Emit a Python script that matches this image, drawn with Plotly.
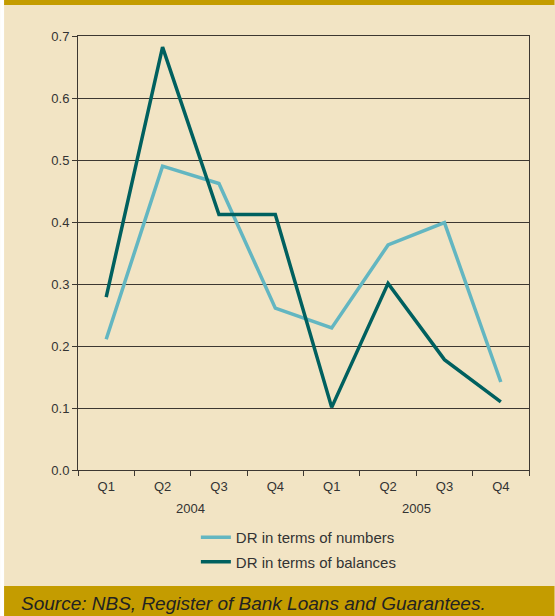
import plotly.graph_objects as go

# Quarterly default rates (DR), 2004-2005
quarters = ["Q1", "Q2", "Q3", "Q4", "Q1", "Q2", "Q3", "Q4"]
years = ["2004", "2005"]
dr_numbers = [0.211, 0.490, 0.462, 0.261, 0.229, 0.363, 0.399, 0.142]
dr_balances = [0.279, 0.682, 0.412, 0.412, 0.101, 0.301, 0.178, 0.110]
y_ticks = [0.0, 0.1, 0.2, 0.3, 0.4, 0.5, 0.6, 0.7]
source_text = "Source: NBS, Register of Bank Loans and Guarantees."

W, H = 555, 616
PL, PR, PT, PB = 78, 529.5, 36, 470  # plot area edges in pixels

BEIGE = "#F2E4C4"
GOLD = "#C49C00"
LIGHT = "#63B6C1"
DARK = "#00605F"
GRID = "#3d3731"
TEXT = "#333333"
FONT = "Liberation Sans, Arial, sans-serif"


def px_x(px):
    return (px - PL) / (PR - PL)


def px_y(py):
    return (PB - py) / (PB - PT)


xs = list(range(len(quarters)))

fig = go.Figure()
fig.add_trace(go.Scatter(
    x=xs, y=dr_numbers, mode="lines", name="DR in terms of numbers",
    line=dict(color=LIGHT, width=3.5), legendgroup="a",
))
fig.add_trace(go.Scatter(
    x=xs, y=dr_balances, mode="lines", name="DR in terms of balances",
    line=dict(color=DARK, width=3.5), legendgroup="b",
))

shapes = [
    # white strip on the left edge
    dict(type="rect", xref="paper", yref="paper", layer="above",
         x0=px_x(0), x1=px_x(4), y0=px_y(H), y1=px_y(0),
         fillcolor="white", line=dict(width=0)),
    # top gold rule
    dict(type="rect", xref="paper", yref="paper", layer="above",
         x0=px_x(4), x1=px_x(W), y0=px_y(5), y1=px_y(0),
         fillcolor=GOLD, line=dict(width=0)),
    # bottom gold band for the source line
    dict(type="rect", xref="paper", yref="paper", layer="above",
         x0=px_x(4), x1=px_x(W), y0=px_y(H), y1=px_y(586),
         fillcolor=GOLD, line=dict(width=0)),
]

annotations = [
    dict(text=yr, x=1.5 + 4 * i, xref="x", y=px_y(508), yref="paper",
         showarrow=False, xanchor="center", yanchor="middle",
         font=dict(family=FONT, size=13, color=TEXT))
    for i, yr in enumerate(years)
]
annotations.append(dict(
    text="<i>" + source_text + "</i>", x=px_x(19), xref="paper",
    y=px_y(603), yref="paper", showarrow=False, xanchor="left",
    yanchor="middle", font=dict(family=FONT, size=19, color="#222222"),
))

fig.update_layout(
    width=W, height=H,
    margin=dict(l=PL, r=W - PR, t=PT, b=H - PB, pad=0),
    paper_bgcolor=BEIGE, plot_bgcolor=BEIGE,
    showlegend=True,
    legend=dict(
        x=px_x(196), y=px_y(521), xanchor="left", yanchor="top",
        bgcolor="rgba(0,0,0,0)", tracegroupgap=2, itemwidth=30,
        font=dict(family=FONT, size=15, color=TEXT),
    ),
    shapes=shapes,
    annotations=annotations,
    xaxis=dict(
        range=[-0.5, 7.5], tickmode="array", tickvals=xs, ticktext=quarters,
        ticks="", showgrid=False, zeroline=False,
        showline=True, linecolor=GRID, linewidth=1, mirror=True,
        tickfont=dict(family=FONT, size=13, color=TEXT),
        ticklabelstandoff=4,
        minor=dict(tickmode="array", tickvals=[i - 0.5 for i in range(9)],
                   ticks="outside", ticklen=5, tickcolor=GRID, showgrid=False),
    ),
    yaxis=dict(
        range=[0, 0.7], tickmode="array", tickvals=y_ticks,
        tickformat=".1f", ticks="outside", ticklen=5, tickcolor=GRID,
        showgrid=True, gridcolor=GRID, gridwidth=1, zeroline=False,
        showline=True, linecolor=GRID, linewidth=1, mirror=True,
        tickfont=dict(family=FONT, size=13, color=TEXT),
    ),
)

fig.write_html("out.html")
